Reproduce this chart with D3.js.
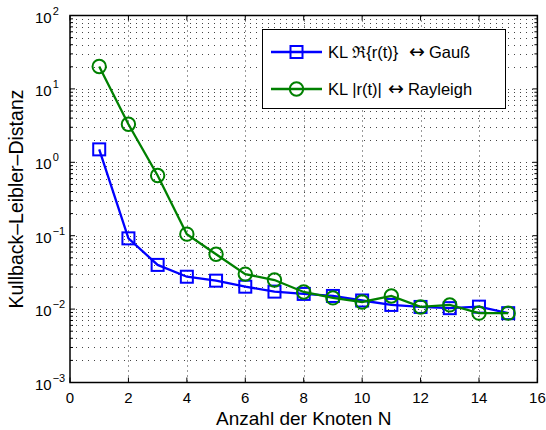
<!DOCTYPE html>
<html>
<head>
<meta charset="utf-8">
<script src="https://cdn.jsdelivr.net/npm/d3@7"></script>
<style>
  html, body { margin: 0; padding: 0; background: #fff; }
  svg { display: block; font-family: "Liberation Sans", Arial, Helvetica, sans-serif; }
</style>
</head>
<body>
<svg id="chart" width="546" height="430"></svg>
<script>
// Kullback-Leibler distance vs. number of nodes N
const nodes = [1, 2, 3, 4, 5, 6, 7, 8, 9, 10, 11, 12, 13, 14, 15];
const klGauss = [1.50, 0.092, 0.040, 0.0276, 0.0244, 0.0202, 0.0173, 0.0161, 0.0151, 0.0131, 0.0114, 0.0107, 0.0103, 0.0108, 0.0088];
const klRayleigh = [20.2, 3.3, 0.66, 0.105, 0.056, 0.030, 0.0249, 0.0171, 0.0142, 0.0125, 0.0151, 0.0107, 0.0114, 0.0088, 0.0088];
const xTicks = [0, 2, 4, 6, 8, 10, 12, 14, 16];
const yExponents = [2, 1, 0, -1, -2, -3];
// legend entries: left part, arrow, right part
const legendLabels = [
  ["KL \u211C{r(t)}", "\u2194", "Gau\u00DF"],
  ["KL |r(t)|", "\u2194", "Rayleigh"]
];
const xLabel = "Anzahl der Knoten N";
const yLabel = "Kullback\u2013Leibler\u2013Distanz";

const svg = d3.select("#chart");
const plotLeft = 70, plotRight = 537.4, plotTop = 15.5, plotBottom = 382.5;

const x = d3.scaleLinear().domain([0, 16]).range([plotLeft, plotRight]);
const y = d3.scaleLog().domain([1e-3, 1e2]).range([plotBottom, plotTop]);

// grid
const grid = svg.append("g");
const minorVals = [];
for (let e = -3; e < 2; e++) for (let m = 2; m <= 9; m++) minorVals.push(m * Math.pow(10, e));
const majorVals = yExponents.map(e => Math.pow(10, e)).filter(v => v > 1e-3 && v < 1e2);
grid.selectAll("line.hy").data(minorVals.concat(majorVals))
  .join("line")
  .attr("x1", plotLeft).attr("x2", plotRight)
  .attr("y1", d => Math.round(y(d)) + 0.5).attr("y2", d => Math.round(y(d)) + 0.5)
  .attr("stroke", "#444").attr("stroke-width", 1).attr("stroke-dasharray", "1,5");
grid.selectAll("line.vx").data(xTicks.filter(t => t > 0 && t < 16))
  .join("line")
  .attr("x1", d => Math.round(x(d)) + 0.5).attr("x2", d => Math.round(x(d)) + 0.5)
  .attr("y1", plotTop).attr("y2", plotBottom)
  .attr("stroke", "#333").attr("stroke-width", 1).attr("stroke-dasharray", "1,4");

// ticks (inside)
const ticks = svg.append("g").attr("stroke", "#000").attr("stroke-width", 1);
xTicks.forEach(t => {
  ticks.append("line").attr("x1", x(t)).attr("x2", x(t)).attr("y1", plotBottom).attr("y2", plotBottom - 5);
  ticks.append("line").attr("x1", x(t)).attr("x2", x(t)).attr("y1", plotTop).attr("y2", plotTop + 5);
});
yExponents.forEach(e => {
  const v = Math.pow(10, e);
  ticks.append("line").attr("x1", plotLeft).attr("x2", plotLeft + 5).attr("y1", y(v)).attr("y2", y(v));
  ticks.append("line").attr("x1", plotRight).attr("x2", plotRight - 5).attr("y1", y(v)).attr("y2", y(v));
});
minorVals.forEach(v => {
  ticks.append("line").attr("x1", plotLeft).attr("x2", plotLeft + 3).attr("y1", y(v)).attr("y2", y(v));
  ticks.append("line").attr("x1", plotRight).attr("x2", plotRight - 3).attr("y1", y(v)).attr("y2", y(v));
});

// axes box
svg.append("rect").attr("x", plotLeft).attr("y", plotTop)
  .attr("width", plotRight - plotLeft).attr("height", plotBottom - plotTop)
  .attr("fill", "none").attr("stroke", "#000").attr("stroke-width", 1.5);

// tick labels
svg.append("g").selectAll("text").data(xTicks).join("text")
  .attr("x", d => x(d)).attr("y", 403)
  .attr("text-anchor", "middle").attr("font-size", 15).text(d => d);

const yl = svg.append("g").selectAll("text").data(yExponents).join("text")
  .attr("x", 35).attr("y", d => y(Math.pow(10, d)) + 7)
  .attr("font-size", 15);
yl.append("tspan").text("10");
yl.append("tspan").attr("dx", 1).attr("dy", -8).attr("font-size", 11)
  .text(d => d < 0 ? "\u2212" + Math.abs(d) : String(d));

// axis labels
svg.append("text").attr("x", (plotLeft + plotRight) / 2).attr("y", 425)
  .attr("text-anchor", "middle").attr("font-size", 19).text(xLabel);
svg.append("text").attr("transform", `translate(23,${(plotTop + plotBottom) / 2}) rotate(-90)`)
  .attr("text-anchor", "middle").attr("font-size", 19.5).text(yLabel);

// series
const series = [
  { values: klGauss, color: "#0000ff", marker: "square" },
  { values: klRayleigh, color: "#008000", marker: "circle" }
];
const line = d3.line().x(d => x(d[0])).y(d => y(d[1]));

function drawMarker(g, cx, cy, s) {
  if (s.marker === "square") {
    g.append("rect").attr("x", cx - 6).attr("y", cy - 6).attr("width", 12).attr("height", 12)
      .attr("fill", "none").attr("stroke", s.color).attr("stroke-width", 2);
  } else {
    g.append("circle").attr("cx", cx).attr("cy", cy).attr("r", 6.7)
      .attr("fill", "none").attr("stroke", s.color).attr("stroke-width", 2);
  }
}

series.forEach(s => {
  const pts = nodes.map((n, i) => [n, s.values[i]]);
  const g = svg.append("g");
  g.append("path").attr("d", line(pts)).attr("fill", "none")
    .attr("stroke", s.color).attr("stroke-width", 2.3);
  pts.forEach(p => drawMarker(g, x(p[0]), y(p[1]), s));
});

// legend
const lg = svg.append("g");
lg.append("rect").attr("x", 262.5).attr("y", 29.5).attr("width", 243).attr("height", 79)
  .attr("fill", "#fff").attr("stroke", "#000").attr("stroke-width", 1);
const rowsY = [52, 89];
const arrowX = [409, 388];
series.forEach((s, i) => {
  lg.append("line").attr("x1", 271).attr("x2", 322).attr("y1", rowsY[i]).attr("y2", rowsY[i])
    .attr("stroke", s.color).attr("stroke-width", 2.3);
  drawMarker(lg, 296.5, rowsY[i], s);
  const t = lg.append("text").attr("x", 328).attr("y", rowsY[i] + 6).attr("font-size", 16.5);
  t.append("tspan").text(legendLabels[i][0]);
  t.append("tspan").attr("x", arrowX[i]).attr("font-family", "DejaVu Sans").attr("font-size", 19)
    .text(legendLabels[i][1]);
  t.append("tspan").attr("dx", 4).text(legendLabels[i][2]);
});
</script>
</body>
</html>
